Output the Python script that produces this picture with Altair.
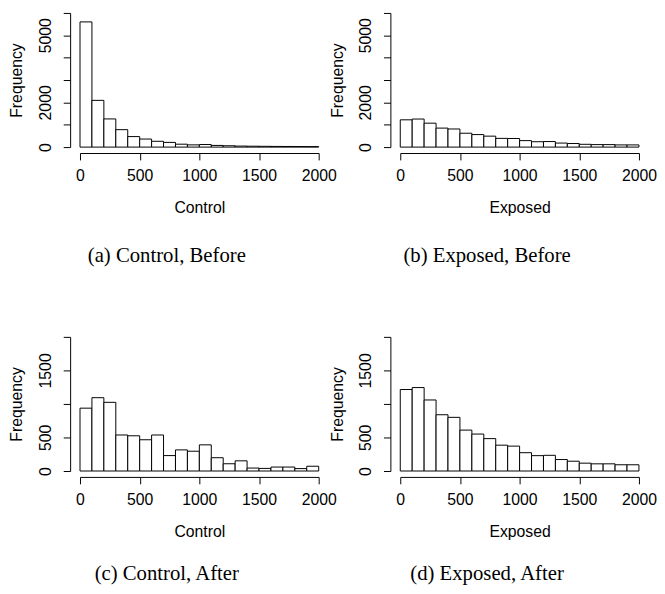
import altair as alt
import pandas as pd

bin_starts = list(range(0, 2000, 100))
bin_ends = list(range(100, 2100, 100))

control_before = [5600, 2090, 1260, 780, 470, 360, 260, 210, 130, 100,
                  115, 75, 60, 45, 40, 35, 30, 28, 25, 22]
exposed_before = [1220, 1255, 1070, 850, 810, 620, 560, 490, 390, 385,
                  290, 240, 248, 180, 160, 125, 112, 112, 98, 98]
control_after = [937, 1093, 1024, 537, 525, 466, 537, 230, 315, 295,
                 390, 198, 108, 152, 44, 39, 59, 59, 36, 71]
exposed_after = [1215, 1244, 1059, 839, 800, 610, 551, 483, 385, 371,
                 273, 229, 234, 171, 146, 117, 107, 107, 93, 93]

x_ticks = [0, 500, 1000, 1500, 2000]
y_ticks_before = [0, 1000, 2000, 3000, 4000, 5000, 6000]
y_labels_before = [0, 2000, 5000]
y_ticks_after = [0, 500, 1000, 1500, 2000]
y_labels_after = [0, 500, 1500]

SANS = "Liberation Sans"
SERIF = "Liberation Serif"
FS = 16


def panel(values, xtitle, caption, ymax, yticks, ylabels, cap_offset):
    df = pd.DataFrame({"start": bin_starts, "end": bin_ends, "count": values})
    lab = "[" + ",".join(str(v) for v in ylabels) + "]"
    return alt.Chart(df, title=alt.TitleParams(
        caption, orient="bottom", font=SERIF, fontSize=21, fontWeight="normal",
        color="black", anchor="middle", offset=cap_offset, dx=-33)
    ).mark_rect(fill="white", stroke="black", strokeWidth=1).encode(
        x=alt.X("start:Q", scale=alt.Scale(domain=[0, 2000], nice=False, zero=False),
                axis=alt.Axis(values=x_ticks, title=xtitle, offset=6, labelPadding=8,
                              titlePadding=16, labelFlush=False, labelOverlap=False,
                              grid=False, format="d")),
        x2="end:Q",
        y=alt.Y("count:Q", scale=alt.Scale(domain=[0, ymax], nice=False),
                axis=alt.Axis(values=yticks, title="Frequency", offset=10, grid=False,
                              labelAngle=270, labelAlign="center",
                              labelBaseline="alphabetic", labelPadding=13,
                              titlePadding=13, labelFlush=False, labelOverlap=False,
                              format="d",
                              labelExpr="indexof(" + lab + ", datum.value) >= 0 ? datum.label : ''")),
        y2=alt.datum(0),
    ).properties(width=242, height=136)


a = panel(control_before, "Control", "(a) Control, Before", 6000, y_ticks_before, y_labels_before, 31)
b = panel(exposed_before, "Exposed", "(b) Exposed, Before", 6000, y_ticks_before, y_labels_before, 31)
c = panel(control_after, "Control", "(c) Control, After", 2000, y_ticks_after, y_labels_after, 25)
d = panel(exposed_after, "Exposed", "(d) Exposed, After", 2000, y_ticks_after, y_labels_after, 25)

chart = alt.concat(a, b, c, d, columns=2, bounds="flush",
                   spacing=alt.RowColnumber(row=192.4, column=82.7)).properties(
    padding={"left": 1, "top": 0, "right": 0, "bottom": 0}, background="white"
).configure_view(stroke=None).configure_axis(
    grid=False, domainColor="black", tickColor="black", labelColor="black",
    titleColor="black", labelFont=SANS, titleFont=SANS, labelFontSize=FS,
    titleFontSize=FS, titleFontWeight="normal", tickSize=7, domainWidth=1, tickWidth=1
)

chart.save("out.html", embed_options={"renderer": "svg", "actions": False})
